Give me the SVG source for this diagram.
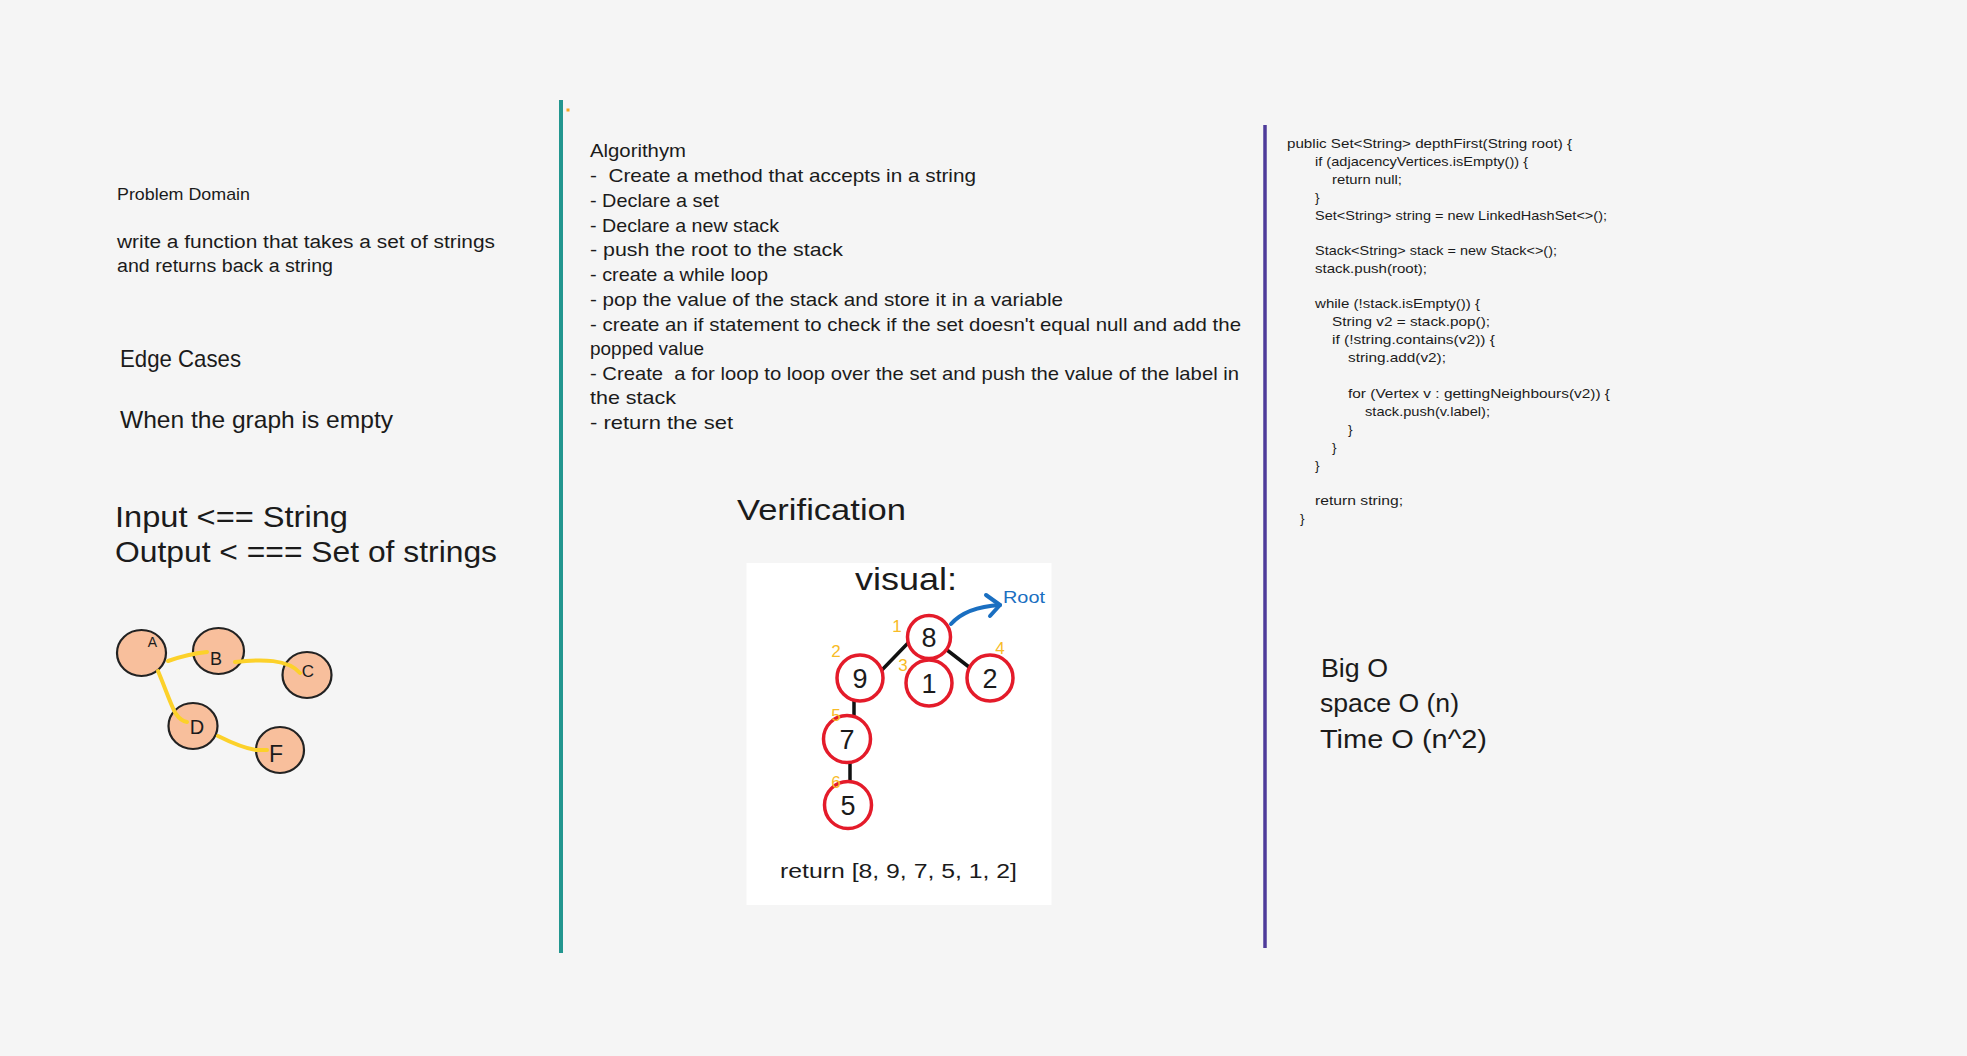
<svg xmlns="http://www.w3.org/2000/svg" width="1967" height="1056" viewBox="0 0 1967 1056">
<style>
text{font-family:"Liberation Sans",Arial,sans-serif;fill:#1b1b1b}
.pd{font-size:17px}
.pd2{font-size:18px}
.ec{font-size:24px}
.io{font-size:29px}
.alg{font-size:19px;white-space:pre}
.code{font-size:13.5px}
.big{font-size:25px}
.gnode{fill:#f8bf9c;stroke:#222;stroke-width:2.2}
.glab{text-anchor:middle}
.gedge{fill:none;stroke:#fcd12a;stroke-width:4;stroke-linecap:round}
.tnode{fill:#fff;stroke:#e41b2a;stroke-width:3.5}
.tedge{stroke:#111;stroke-width:3.5;stroke-linecap:round}
.num{font-size:27px;text-anchor:middle}
.ord{font-size:17px;fill:#f8bb26;text-anchor:middle}
</style>
<rect x="0" y="0" width="1967" height="1056" fill="#f5f5f5"/>

<!-- column dividers -->
<line x1="561" y1="100" x2="561" y2="953" stroke="#22968f" stroke-width="4"/>
<rect x="566.5" y="108.5" width="3" height="3" fill="#f5a623"/>
<line x1="1265" y1="125" x2="1265" y2="948" stroke="#4e3b9a" stroke-width="3.5"/>

<!-- left column -->
<g id="problem-domain">
<text class="pd" x="117" y="200" textLength="133" lengthAdjust="spacingAndGlyphs">Problem Domain</text>
<text class="pd2" x="117" y="248" textLength="378" lengthAdjust="spacingAndGlyphs">write a function that takes a set of strings</text>
<text class="pd2" x="117" y="272" textLength="216" lengthAdjust="spacingAndGlyphs">and returns back a string</text>
</g>
<g id="edge-cases">
<text class="ec" x="120" y="367" textLength="121" lengthAdjust="spacingAndGlyphs">Edge Cases</text>
<text class="ec" x="120" y="428" textLength="273" lengthAdjust="spacingAndGlyphs">When the graph is empty</text>
</g>
<g id="input-output">
<text class="io" x="115" y="527" textLength="233" lengthAdjust="spacingAndGlyphs">Input &lt;== String</text>
<text class="io" x="115" y="562" textLength="382" lengthAdjust="spacingAndGlyphs">Output &lt; === Set of strings</text>
</g>

<!-- sample graph -->
<g id="node-A"><ellipse class="gnode" cx="141.5" cy="653" rx="24.5" ry="23"/></g>
<g id="node-B"><ellipse class="gnode" cx="218.5" cy="651" rx="25.5" ry="23"/></g>
<g id="node-C"><ellipse class="gnode" cx="307" cy="675" rx="24.5" ry="23"/></g>
<g id="node-D"><ellipse class="gnode" cx="193" cy="726" rx="24.5" ry="23"/></g>
<g id="node-F"><ellipse class="gnode" cx="280" cy="750" rx="24" ry="23"/></g>
<g id="graph-connectors">
<path class="gedge" d="M168,661 Q188,654 207,652"/>
<path class="gedge" d="M235,662 C262,659 288,659 300,673"/>
<path class="gedge" d="M158,671 C166,690 172,708 176,714 Q181,721 187,722"/>
<path class="gedge" d="M218,736 Q242,748 256,750 L267,750"/>
</g>
<g id="graph-labels">
<text class="glab" x="152.5" y="647" font-size="14">A</text>
<text class="glab" x="216" y="665" font-size="18">B</text>
<text class="glab" x="308" y="677" font-size="17">C</text>
<text class="glab" x="197" y="734" font-size="20">D</text>
<text class="glab" x="276" y="762" font-size="23">F</text>
</g>

<!-- algorithm column -->
<g id="algorithm">
<text class="alg" x="590" y="157" textLength="96" lengthAdjust="spacingAndGlyphs">Algorithym</text>
<text class="alg" x="590" y="182" textLength="386" lengthAdjust="spacingAndGlyphs">-  Create a method that accepts in a string</text>
<text class="alg" x="590" y="207" textLength="129" lengthAdjust="spacingAndGlyphs">- Declare a set</text>
<text class="alg" x="590" y="232" textLength="189" lengthAdjust="spacingAndGlyphs">- Declare a new stack</text>
<text class="alg" x="590" y="256" textLength="253" lengthAdjust="spacingAndGlyphs">- push the root to the stack</text>
<text class="alg" x="590" y="281" textLength="178" lengthAdjust="spacingAndGlyphs">- create a while loop</text>
<text class="alg" x="590" y="306" textLength="473" lengthAdjust="spacingAndGlyphs">- pop the value of the stack and store it in a variable</text>
<text class="alg" x="590" y="331" textLength="651" lengthAdjust="spacingAndGlyphs">- create an if statement to check if the set doesn't equal null and add the</text>
<text class="alg" x="590" y="355" textLength="114" lengthAdjust="spacingAndGlyphs">popped value</text>
<text class="alg" x="590" y="380" textLength="649" lengthAdjust="spacingAndGlyphs">- Create  a for loop to loop over the set and push the value of the label in</text>
<text class="alg" x="590" y="404" textLength="86" lengthAdjust="spacingAndGlyphs">the stack</text>
<text class="alg" x="590" y="429" textLength="143" lengthAdjust="spacingAndGlyphs">- return the set</text>
</g>

<g id="verification-title">
<text x="737" y="520" font-size="30" textLength="169" lengthAdjust="spacingAndGlyphs">Verification</text>
</g>

<!-- visual panel -->
<g id="visual-panel">
<rect x="746.5" y="563" width="305" height="342" fill="#ffffff"/>
<text x="855" y="590" font-size="32" textLength="102" lengthAdjust="spacingAndGlyphs">visual:</text>
<text x="1003" y="603" font-size="17" style="fill:#1a6fc1" textLength="42" lengthAdjust="spacingAndGlyphs">Root</text>
<text x="780" y="878" font-size="20" textLength="237" lengthAdjust="spacingAndGlyphs">return [8, 9, 7, 5, 1, 2]</text>
</g>

<g id="tree-connectors">
<line class="tedge" x1="908" y1="643" x2="880" y2="672"/>
<line class="tedge" x1="929" y1="655" x2="929" y2="662"/>
<line class="tedge" x1="947" y1="650" x2="969" y2="667"/>
<line class="tedge" x1="854" y1="698" x2="854" y2="718"/>
<line class="tedge" x1="850" y1="762" x2="850" y2="785"/>
<path d="M951,624 Q966,607 1000,605" fill="none" stroke="#1a6fc1" stroke-width="4" stroke-linecap="round"/>
<path d="M986,595 L1000,605 L990,616" fill="none" stroke="#1a6fc1" stroke-width="4" stroke-linecap="round" stroke-linejoin="round"/>
</g>

<g id="tree-node-8"><circle class="tnode" cx="929" cy="637" r="21.5"/><text class="num" x="929" y="647">8</text><text class="ord" x="897" y="632">1</text></g>
<g id="tree-node-9"><circle class="tnode" cx="860" cy="678" r="23"/><text class="num" x="860" y="688">9</text><text class="ord" x="836" y="657">2</text></g>
<g id="tree-node-1"><circle class="tnode" cx="929" cy="683" r="23"/><text class="num" x="929" y="693">1</text><text class="ord" x="903" y="671">3</text></g>
<g id="tree-node-2"><circle class="tnode" cx="990" cy="678" r="23"/><text class="num" x="990" y="688">2</text><text class="ord" x="1000" y="654">4</text></g>
<g id="tree-node-7"><circle class="tnode" cx="847" cy="739" r="23.5"/><text class="num" x="847" y="749">7</text><text class="ord" x="836" y="721">5</text></g>
<g id="tree-node-5"><circle class="tnode" cx="848" cy="805" r="23.5"/><text class="num" x="848" y="815">5</text><text class="ord" x="836" y="788">6</text></g>

<!-- code column -->
<g id="code">
<text class="code" x="1287" y="148" textLength="285" lengthAdjust="spacingAndGlyphs">public Set&lt;String&gt; depthFirst(String root) {</text>
<text class="code" x="1315" y="166" textLength="213" lengthAdjust="spacingAndGlyphs">if (adjacencyVertices.isEmpty()) {</text>
<text class="code" x="1332" y="184" textLength="70" lengthAdjust="spacingAndGlyphs">return null;</text>
<text class="code" x="1315" y="202">}</text>
<text class="code" x="1315" y="220" textLength="292" lengthAdjust="spacingAndGlyphs">Set&lt;String&gt; string = new LinkedHashSet&lt;&gt;();</text>
<text class="code" x="1315" y="255" textLength="242" lengthAdjust="spacingAndGlyphs">Stack&lt;String&gt; stack = new Stack&lt;&gt;();</text>
<text class="code" x="1315" y="273" textLength="112" lengthAdjust="spacingAndGlyphs">stack.push(root);</text>
<text class="code" x="1315" y="308" textLength="165" lengthAdjust="spacingAndGlyphs">while (!stack.isEmpty()) {</text>
<text class="code" x="1332" y="326" textLength="158" lengthAdjust="spacingAndGlyphs">String v2 = stack.pop();</text>
<text class="code" x="1332" y="344" textLength="163" lengthAdjust="spacingAndGlyphs">if (!string.contains(v2)) {</text>
<text class="code" x="1348" y="362" textLength="98" lengthAdjust="spacingAndGlyphs">string.add(v2);</text>
<text class="code" x="1348" y="398" textLength="262" lengthAdjust="spacingAndGlyphs">for (Vertex v : gettingNeighbours(v2)) {</text>
<text class="code" x="1365" y="416" textLength="125" lengthAdjust="spacingAndGlyphs">stack.push(v.label);</text>
<text class="code" x="1348" y="434">}</text>
<text class="code" x="1332" y="452">}</text>
<text class="code" x="1315" y="470">}</text>
<text class="code" x="1315" y="505" textLength="88" lengthAdjust="spacingAndGlyphs">return string;</text>
<text class="code" x="1300" y="523">}</text>
</g>

<g id="big-o">
<text class="big" x="1321" y="677" textLength="67" lengthAdjust="spacingAndGlyphs">Big O</text>
<text class="big" x="1320" y="712" textLength="139" lengthAdjust="spacingAndGlyphs">space O (n)</text>
<text class="big" x="1320" y="748" textLength="167" lengthAdjust="spacingAndGlyphs">Time O (n^2)</text>
</g>
</svg>
